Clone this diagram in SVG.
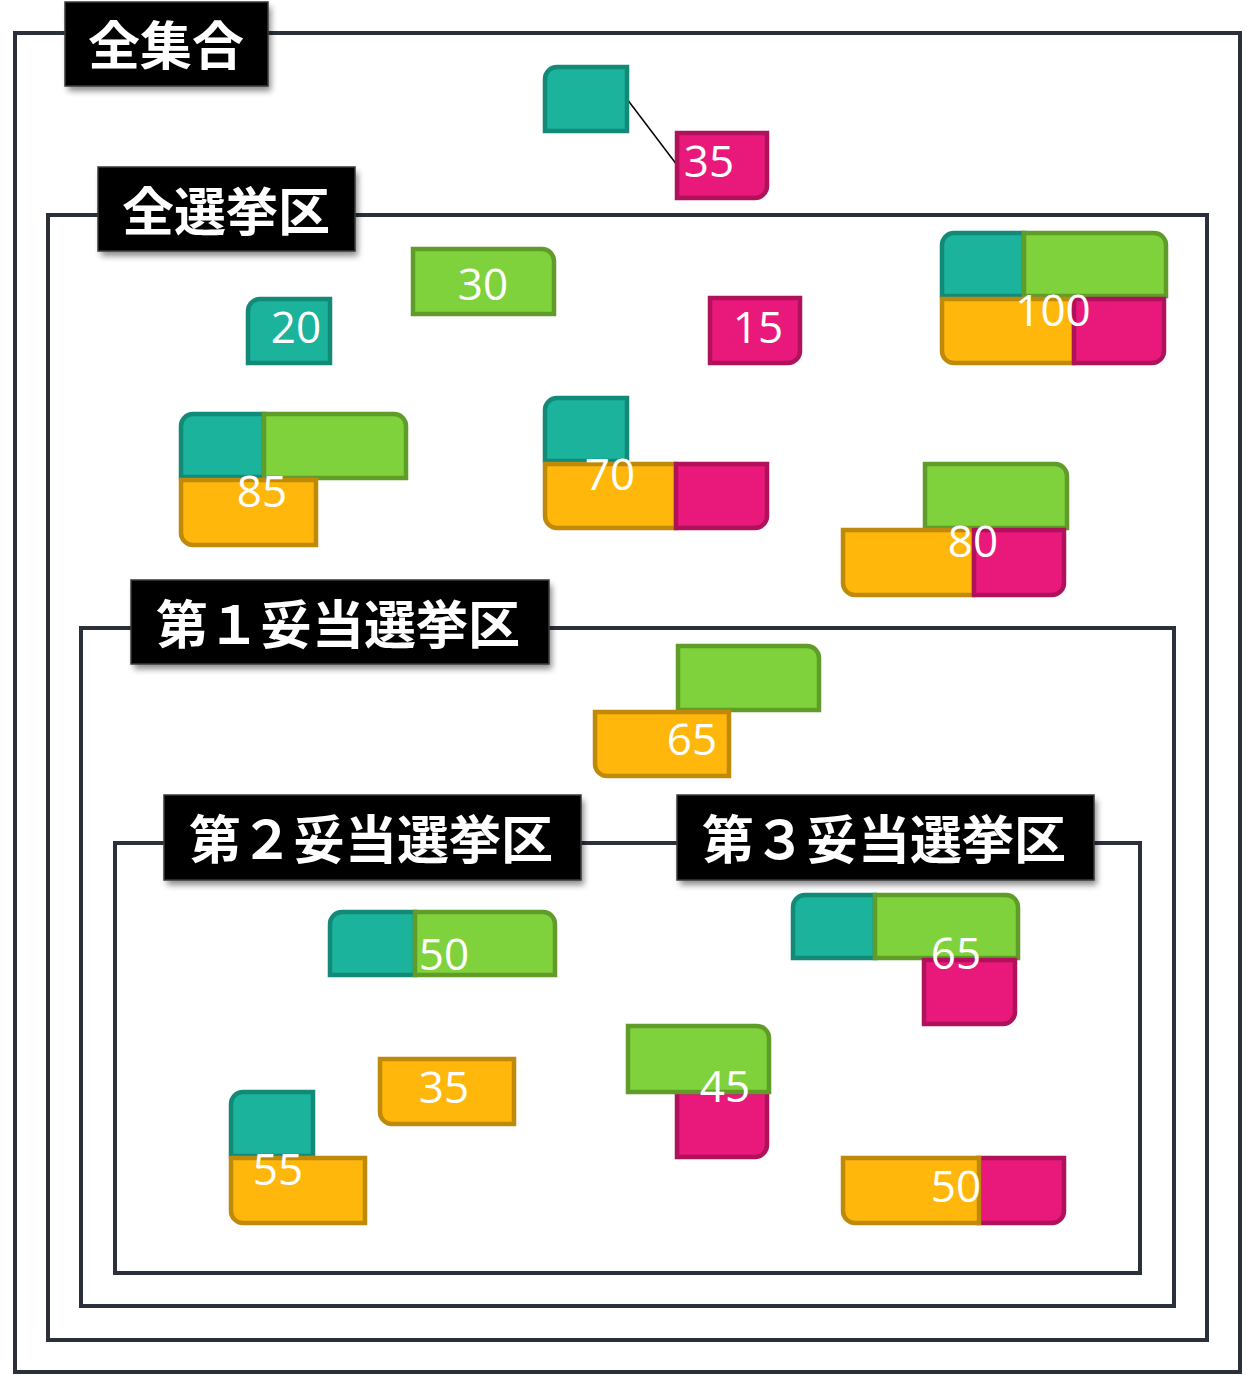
<svg xmlns="http://www.w3.org/2000/svg" width="1247" height="1375" viewBox="0 0 1247 1375">
<defs>
<style>
.frame{fill:none;stroke:#2b303b;stroke-width:4}
.lbl{fill:#000;stroke:#3a3a3a;stroke-width:1.5}
.shd{fill:#000;opacity:0.45;filter:url(#blur)}
.lt{font-family:"Noto Sans CJK JP","Noto Sans CJK SC",sans-serif;font-weight:bold;font-size:52px;fill:#fff;text-anchor:middle}
.num{font-family:"Open Sans","Noto Sans",sans-serif;font-size:44px;fill:#fff;text-anchor:middle}
.t{fill:#1bb39c;stroke:#128a77;stroke-width:4.5}
.g{fill:#80d23c;stroke:#5f9c2a;stroke-width:4.5}
.o{fill:#ffb70c;stroke:#bf890a;stroke-width:4.5}
.p{fill:#e8197a;stroke:#b0115b;stroke-width:4.5}
.conn{stroke:#000;stroke-width:1.5;fill:none}
</style>
<filter id="blur" x="-10%" y="-20%" width="120%" height="140%"><feGaussianBlur stdDeviation="3"/></filter>
<linearGradient id="bev" x1="0" y1="0" x2="0" y2="1"><stop offset="0" stop-color="#2a2a2a"/><stop offset="0.12" stop-color="#000"/><stop offset="0.88" stop-color="#000"/><stop offset="1" stop-color="#1a1a1a"/></linearGradient>
</defs>
<rect width="1247" height="1375" fill="#fff"/>
<g id="frames">
<rect class="frame" x="15" y="33" width="1225" height="1339"/>
<rect class="frame" x="48" y="215" width="1159" height="1125"/>
<rect class="frame" x="81" y="628" width="1093" height="678"/>
<rect class="frame" x="115" y="843" width="1025" height="430"/>
</g>
<g id="connectors">
<line class="conn" x1="627" y1="99" x2="677" y2="165"/>
</g>
<g id="label-zenshugo">
<rect class="shd" x="68" y="7" width="203" height="84"/>
<rect class="lbl" x="65" y="2" width="203" height="84" fill="url(#bev)"/>
<text class="lt" x="166" y="65">全集合</text>
</g>
<g id="label-zensenkyoku">
<rect class="shd" x="101" y="172" width="257" height="84"/>
<rect class="lbl" x="98" y="167" width="257" height="84" fill="url(#bev)"/>
<text class="lt" x="226" y="231">全選挙区</text>
</g>
<g id="label-dai1">
<rect class="shd" x="134" y="585" width="418" height="84"/>
<rect class="lbl" x="131" y="580" width="418" height="84" fill="url(#bev)"/>
<text class="lt" x="338" y="644">第１妥当選挙区</text>
</g>
<g id="label-dai2">
<rect class="shd" x="167" y="800" width="417" height="85"/>
<rect class="lbl" x="164" y="795" width="417" height="85" fill="url(#bev)"/>
<text class="lt" x="371" y="859">第２妥当選挙区</text>
</g>
<g id="label-dai3">
<rect class="shd" x="680" y="800" width="417" height="85"/>
<rect class="lbl" x="677" y="795" width="417" height="85" fill="url(#bev)"/>
<text class="lt" x="884" y="859">第３妥当選挙区</text>
</g>
<g id="n-top35">
<path class="t" d="M557,67 H627 V131 H545 V79 A12 12 0 0 1 557,67 Z"/>
<path class="p" d="M677,133 H767 V186 A12 12 0 0 1 755,198 H677 Z"/>
<text class="num" x="709" y="177">35</text>
</g>
<g id="n-30">
<path class="g" d="M413,249 H542 A12 12 0 0 1 554,261 V314 H413 Z"/>
<text class="num" x="483" y="300">30</text>
</g>
<g id="n-20">
<path class="t" d="M260,299 H330 V363 H248 V311 A12 12 0 0 1 260,299 Z"/>
<text class="num" x="296" y="343">20</text>
</g>
<g id="n-15">
<path class="p" d="M710,298 H800 V351 A12 12 0 0 1 788,363 H710 Z"/>
<text class="num" x="758" y="343">15</text>
</g>
<g id="n-100">
<path class="t" d="M954,233 H1024 V296 H942 V245 A12 12 0 0 1 954,233 Z"/>
<path class="g" d="M1024,233 H1154 A12 12 0 0 1 1166,245 V296 H1024 Z"/>
<path class="o" d="M942,299 H1074 V363 H954 A12 12 0 0 1 942,351 Z"/>
<path class="p" d="M1074,299 H1164 V351 A12 12 0 0 1 1152,363 H1074 Z"/>
<text class="num" x="1053" y="326">100</text>
</g>
<g id="n-85">
<path class="t" d="M193,414 H264 V477 H181 V426 A12 12 0 0 1 193,414 Z"/>
<path class="g" d="M264,414 H394 A12 12 0 0 1 406,426 V478 H264 Z"/>
<path class="o" d="M181,480 H316 V545 H193 A12 12 0 0 1 181,533 Z"/>
<text class="num" x="262" y="507">85</text>
</g>
<g id="n-70">
<path class="t" d="M557,398 H627 V461 H545 V410 A12 12 0 0 1 557,398 Z"/>
<path class="o" d="M545,464 H676 V528 H557 A12 12 0 0 1 545,516 Z"/>
<path class="p" d="M676,464 H767 V516 A12 12 0 0 1 755,528 H676 Z"/>
<text class="num" x="610" y="490">70</text>
</g>
<g id="n-80">
<path class="g" d="M925,464 H1055 A12 12 0 0 1 1067,476 V528 H925 Z"/>
<path class="o" d="M843,530 H974 V595 H855 A12 12 0 0 1 843,583 Z"/>
<path class="p" d="M974,530 H1064 V583 A12 12 0 0 1 1052,595 H974 Z"/>
<text class="num" x="973" y="557">80</text>
</g>
<g id="n-65a">
<path class="g" d="M678,646 H807 A12 12 0 0 1 819,658 V710 H678 Z"/>
<path class="o" d="M595,712 H729 V776 H607 A12 12 0 0 1 595,764 Z"/>
<text class="num" x="692" y="755">65</text>
</g>
<g id="n-50a">
<path class="t" d="M342,912 H415 V975 H330 V924 A12 12 0 0 1 342,912 Z"/>
<path class="g" d="M415,912 H543 A12 12 0 0 1 555,924 V975 H415 Z"/>
<text class="num" x="444" y="970">50</text>
</g>
<g id="n-65b">
<path class="t" d="M805,895 H875 V958 H793 V907 A12 12 0 0 1 805,895 Z"/>
<path class="g" d="M875,895 H1006 A12 12 0 0 1 1018,907 V958 H875 Z"/>
<path class="p" d="M924,960 H1015 V1012 A12 12 0 0 1 1003,1024 H924 Z"/>
<text class="num" x="956" y="969">65</text>
</g>
<g id="n-35b">
<path class="o" d="M380,1059 H514 V1124 H392 A12 12 0 0 1 380,1112 Z"/>
<text class="num" x="444" y="1103">35</text>
</g>
<g id="n-45">
<path class="p" d="M677,1092 H767 V1145 A12 12 0 0 1 755,1157 H677 Z"/>
<path class="g" d="M628,1026 H757 A12 12 0 0 1 769,1038 V1092 H628 Z"/>
<text class="num" x="725" y="1102">45</text>
</g>
<g id="n-55">
<path class="t" d="M243,1092 H313 V1156 H231 V1104 A12 12 0 0 1 243,1092 Z"/>
<path class="o" d="M231,1158 H365 V1223 H243 A12 12 0 0 1 231,1211 Z"/>
<text class="num" x="278" y="1185">55</text>
</g>
<g id="n-50b">
<path class="p" d="M979,1158 H1064 V1211 A12 12 0 0 1 1052,1223 H979 Z"/>
<path class="o" d="M843,1158 H979 V1223 H855 A12 12 0 0 1 843,1211 Z"/>
<text class="num" x="956" y="1202">50</text>
</g>
</svg>
